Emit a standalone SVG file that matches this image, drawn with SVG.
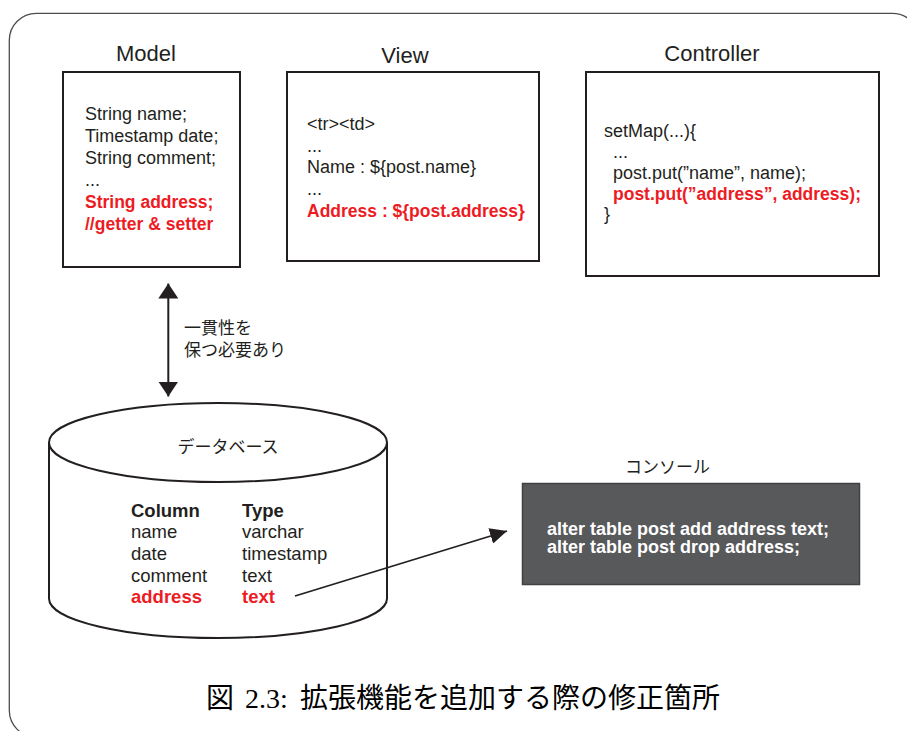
<svg xmlns="http://www.w3.org/2000/svg" width="907" height="731" viewBox="0 0 907 731">
  <defs>
    <style>
      .frame { fill: none; stroke: #4d4d4d; stroke-width: 1.3; }
      .box { fill: #ffffff; stroke: #231f20; stroke-width: 2; }
      .title { font-family: "Liberation Sans", "Noto Sans CJK JP", sans-serif; font-size: 22px; fill: #231f20; text-anchor: middle; }
      .code { font-family: "Liberation Sans", "Noto Sans CJK JP", sans-serif; font-size: 18px; fill: #231f20; }
      .red { font-family: "Liberation Sans", "Noto Sans CJK JP", sans-serif; font-size: 17.5px; font-weight: bold; fill: #ed1c24; }
      .jp { font-family: "Noto Sans CJK JP", "Liberation Sans", sans-serif; font-size: 17px; fill: #231f20; }
      .db { font-family: "Liberation Sans", "Noto Sans CJK JP", sans-serif; font-size: 18.5px; fill: #231f20; }
      .dbh { font-weight: bold; }
      .dbred { font-weight: bold; fill: #ed1c24; }
      .console { fill: #58595b; stroke: #414042; stroke-width: 1.5; }
      .ctext { font-family: "Liberation Sans", "Noto Sans CJK JP", sans-serif; font-size: 18px; font-weight: bold; fill: #ffffff; }
      .conn { fill: none; stroke: #231f20; stroke-width: 2; }
      .caption { font-family: "Noto Sans CJK JP", "Liberation Sans", sans-serif; font-size: 28px; fill: #000000; }
      .capnum { font-family: "Liberation Serif", "Noto Sans CJK JP", serif; font-size: 28px; fill: #000000; }
    </style>
    <marker id="arrowV" markerUnits="userSpaceOnUse" markerWidth="15" markerHeight="20" viewBox="0 0 15 20" refX="15" refY="10" orient="auto-start-reverse">
      <path d="M0,0 L15,10 L0,20 Z" fill="#231f20"/>
    </marker>
    <marker id="arrowD" markerUnits="userSpaceOnUse" markerWidth="17" markerHeight="16" viewBox="0 0 17 16" refX="17" refY="8" orient="auto">
      <path d="M0,0 L17,8 L0,16 Z" fill="#231f20"/>
    </marker>
  </defs>

  <rect width="907" height="731" fill="#ffffff"/>
  <rect id="frame" class="frame" x="9.3" y="13.3" width="910" height="724" rx="27" ry="27"/>

  <g id="model">
    <text class="title" x="146" y="61">Model</text>
    <rect class="box" x="63" y="72" width="177" height="195"/>
    <text class="code" x="85" y="120">String name;</text>
    <text class="code" x="85" y="142">Timestamp date;</text>
    <text class="code" x="85" y="164">String comment;</text>
    <text class="code" x="85" y="186">...</text>
    <text class="red" x="85" y="208">String address;</text>
    <text class="red" x="85" y="230">//getter &amp; setter</text>
  </g>

  <g id="view">
    <text class="title" x="405" y="63">View</text>
    <rect class="box" x="287" y="72" width="252" height="189"/>
    <text class="code" x="307" y="130">&lt;tr&gt;&lt;td&gt;</text>
    <text class="code" x="307" y="151.5">...</text>
    <text class="code" x="307" y="173.2">Name : ${post.name}</text>
    <text class="code" x="307" y="195">...</text>
    <text class="red" x="307" y="216.5">Address : ${post.address}</text>
  </g>

  <g id="controller">
    <text class="title" x="712" y="61">Controller</text>
    <rect class="box" x="586" y="72" width="293" height="204"/>
    <text class="code" x="604" y="136.5">setMap(...){</text>
    <text class="code" x="613" y="157.5">...</text>
    <text class="code" x="613" y="178.5">post.put(”name”, name);</text>
    <text class="red" x="613" y="199.5">post.put(”address”, address);</text>
    <text class="code" x="604" y="220">}</text>
  </g>

  <g id="database">
    <path class="box" d="M49,442.5 V598.5 A169,39.5 0 0 0 387,598.5 V442.5"/>
    <ellipse class="box" cx="218" cy="442.5" rx="169" ry="39.5"/>
    <text class="jp" x="228" y="453" text-anchor="middle">データベース</text>
    <text class="db dbh" x="131" y="516.5">Column</text>
    <text class="db dbh" x="242" y="516.5">Type</text>
    <text class="db" x="131" y="538">name</text>
    <text class="db" x="242" y="538">varchar</text>
    <text class="db" x="131" y="560">date</text>
    <text class="db" x="242" y="560">timestamp</text>
    <text class="db" x="131" y="581.5">comment</text>
    <text class="db" x="242" y="581.5">text</text>
    <text class="db dbred" x="131" y="603">address</text>
    <text class="db dbred" x="242" y="603">text</text>
  </g>

  <g id="console">
    <text class="jp" x="667.5" y="473" text-anchor="middle">コンソール</text>
    <rect class="console" x="522.5" y="483.5" width="337" height="101"/>
    <text class="ctext" x="547" y="535">alter table post add address text;</text>
    <text class="ctext" x="547" y="552.5">alter table post drop address;</text>
  </g>

  <g id="connectors">
    <line class="conn" x1="168.3" y1="283.5" x2="168.3" y2="396.5" marker-start="url(#arrowV)" marker-end="url(#arrowV)"/>
    <line class="conn" x1="295" y1="596" x2="507" y2="531" marker-end="url(#arrowD)" style="stroke-width:1.8"/>
  </g>

  <g id="consistency-label">
    <text class="jp" x="184" y="334">一貫性を</text>
    <text class="jp" x="184" y="356">保つ必要あり</text>
  </g>

  <g id="caption">
    <text class="caption" x="206" y="708">図</text>
    <text class="capnum" x="245" y="708">2.3:</text>
    <text class="caption" x="300" y="708">拡張機能を追加する際の修正箇所</text>
  </g>
</svg>
